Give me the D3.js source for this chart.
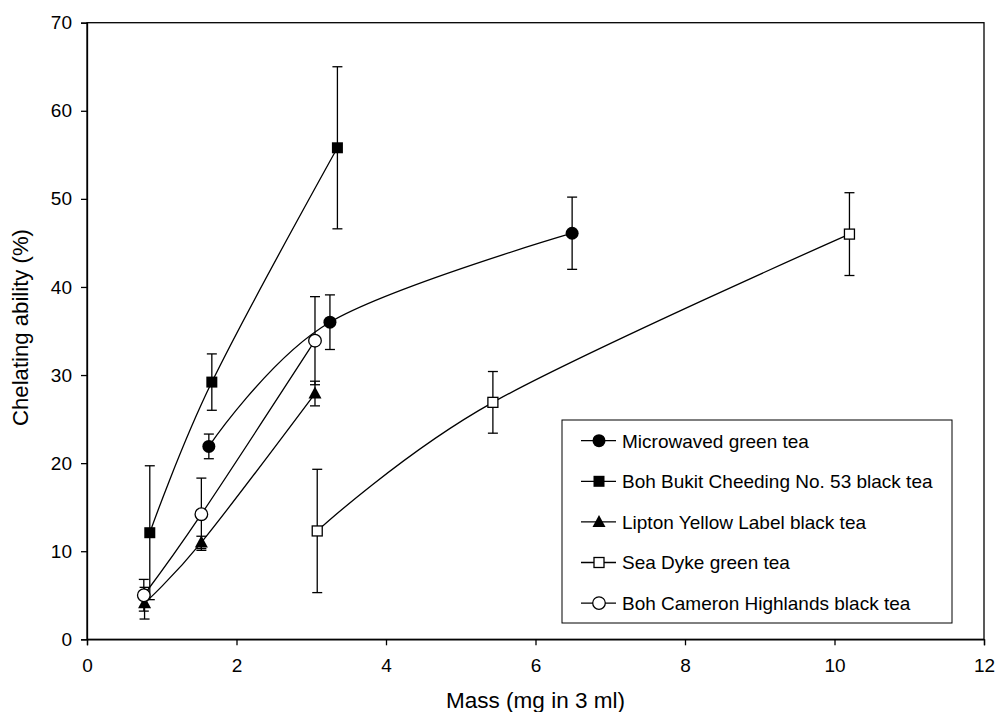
<!DOCTYPE html>
<html><head><meta charset="utf-8">
<script src="https://cdn.jsdelivr.net/npm/d3@7"></script>
<style>body{margin:0;background:#fff}svg{display:block}text{font-family:"Liberation Sans",Arial,sans-serif;fill:#000}</style>
</head><body>
<svg id="c" width="996" height="712"></svg>
<script>
const seriesNames = ["Microwaved green tea","Boh Bukit Cheeding No. 53 black tea","Lipton Yellow Label black tea","Sea Dyke green tea","Boh Cameron Highlands black tea"];
const symbols = ["circleFilled","squareFilled","triangleFilled","squareOpen","circleOpen"];
const microwavedX = [1.63, 3.25, 6.49];
const microwavedY = [21.9, 36.0, 46.1];
const microwavedErr = [1.4, 3.1, 4.1];
const bukitX = [0.84, 1.67, 3.35];
const bukitY = [12.1, 29.2, 55.8];
const bukitErr = [7.6, 3.2, 9.2];
const liptonX = [0.77, 1.53, 3.05];
const liptonY = [4.1, 11.0, 27.9];
const liptonErr = [1.8, 0.7, 1.4];
const seaDykeX = [3.08, 5.43, 10.2];
const seaDykeY = [12.3, 26.9, 46.0];
const seaDykeErr = [7.0, 3.5, 4.7];
const cameronX = [0.76, 1.53, 3.05];
const cameronY = [5.0, 14.2, 33.9];
const cameronErr = [1.8, 4.1, 5.0];
const xTicks = [0,2,4,6,8,10,12];
const yTicks = [0,10,20,30,40,50,60,70];

const allX = [microwavedX,bukitX,liptonX,seaDykeX,cameronX];
const allY = [microwavedY,bukitY,liptonY,seaDykeY,cameronY];
const allE = [microwavedErr,bukitErr,liptonErr,seaDykeErr,cameronErr];
const series = seriesNames.map((n,i)=>({name:n,sym:symbols[i],pts:allX[i].map((x,j)=>({x,y:allY[i][j],e:allE[i][j]}))}));

const L=87,R=984,T=22.7,B=639.3;
const svg=d3.select("#c");
const x=d3.scaleLinear().domain([0,12]).range([L,R]);
const y=d3.scaleLinear().domain([0,70]).range([B,T]);

svg.append("rect").attr("x",L).attr("y",T).attr("width",R-L).attr("height",B-T).attr("fill","none").attr("stroke","#000").attr("stroke-width",1.3);

const xa=svg.append("g").attr("transform",`translate(0,${B})`).call(d3.axisBottom(x).tickValues(xTicks).tickSize(6).tickPadding(13).tickFormat(d3.format("d")));
const ya=svg.append("g").attr("transform",`translate(${L},0)`).call(d3.axisLeft(y).tickValues(yTicks).tickSize(6).tickPadding(9).tickFormat(d3.format("d")));
[xa,ya].forEach(a=>{a.select(".domain").attr("stroke","#000").attr("stroke-width",1.3);a.selectAll(".tick line").attr("stroke","#000").attr("stroke-width",1.3);a.selectAll("text").style("font-size","19px").attr("fill","#000");});

function fitText(t,w){const l=t.node().getComputedTextLength();const fs=parseFloat(t.style("font-size"));t.style("font-size",(fs*w/l)+"px");}
const xt=svg.append("text").attr("x",535.5).attr("y",708).attr("text-anchor","middle").style("font-size","21px").text("Mass (mg in 3 ml)");
fitText(xt,179);
const yt=svg.append("text").attr("transform",`translate(28,327.5) rotate(-90)`).attr("text-anchor","middle").style("font-size","21px").text("Chelating ability (%)");
fitText(yt,197);

const line=d3.line().x(d=>x(d.x)).y(d=>y(d.y)).curve(d3.curveCardinal.tension(0));

function drawMarker(g,sym,cx,cy){
  if(sym==="circleFilled") g.append("circle").attr("cx",cx).attr("cy",cy).attr("r",6.5).attr("fill","#000");
  else if(sym==="circleOpen") g.append("circle").attr("cx",cx).attr("cy",cy).attr("r",6.3).attr("fill","#fff").attr("stroke","#000").attr("stroke-width",1.3);
  else if(sym==="squareFilled") g.append("rect").attr("x",cx-5.5).attr("y",cy-5.5).attr("width",11).attr("height",11).attr("fill","#000");
  else if(sym==="squareOpen") g.append("rect").attr("x",cx-5).attr("y",cy-5).attr("width",10).attr("height",10).attr("fill","#fff").attr("stroke","#000").attr("stroke-width",1.3);
  else if(sym==="triangleFilled") g.append("path").attr("d",`M${cx},${cy-7}L${cx+6.5},${cy+5}L${cx-6.5},${cy+5}Z`).attr("fill","#000");
}

const g=svg.append("g");
series.forEach(s=>{
  g.append("path").attr("d",line(s.pts)).attr("fill","none").attr("stroke","#000").attr("stroke-width",1.3);
});
series.forEach(s=>{
  s.pts.forEach(p=>{
    const px=x(p.x),y1=y(p.y+p.e),y2=y(p.y-p.e);
    g.append("line").attr("x1",px).attr("x2",px).attr("y1",y1).attr("y2",y2).attr("stroke","#000").attr("stroke-width",1.3);
    [y1,y2].forEach(yy=>g.append("line").attr("x1",px-5).attr("x2",px+5).attr("y1",yy).attr("y2",yy).attr("stroke","#000").attr("stroke-width",1.3));
  });
});
series.forEach(s=>s.pts.forEach(p=>drawMarker(g,s.sym,x(p.x),y(p.y))));

const lg=svg.append("g");
lg.append("rect").attr("x",562).attr("y",420).attr("width",390).attr("height",203).attr("fill","#fff").attr("stroke","#000").attr("stroke-width",1);
series.forEach((s,i)=>{
  const cy=440.7+i*40.6;
  lg.append("line").attr("x1",581).attr("x2",616).attr("y1",cy).attr("y2",cy).attr("stroke","#000").attr("stroke-width",1.3);
  drawMarker(lg,s.sym,599,cy);
  lg.append("text").attr("x",622).attr("y",cy).attr("dy","0.36em").style("font-size","19px").text(s.name);
});
</script>
</body></html>
